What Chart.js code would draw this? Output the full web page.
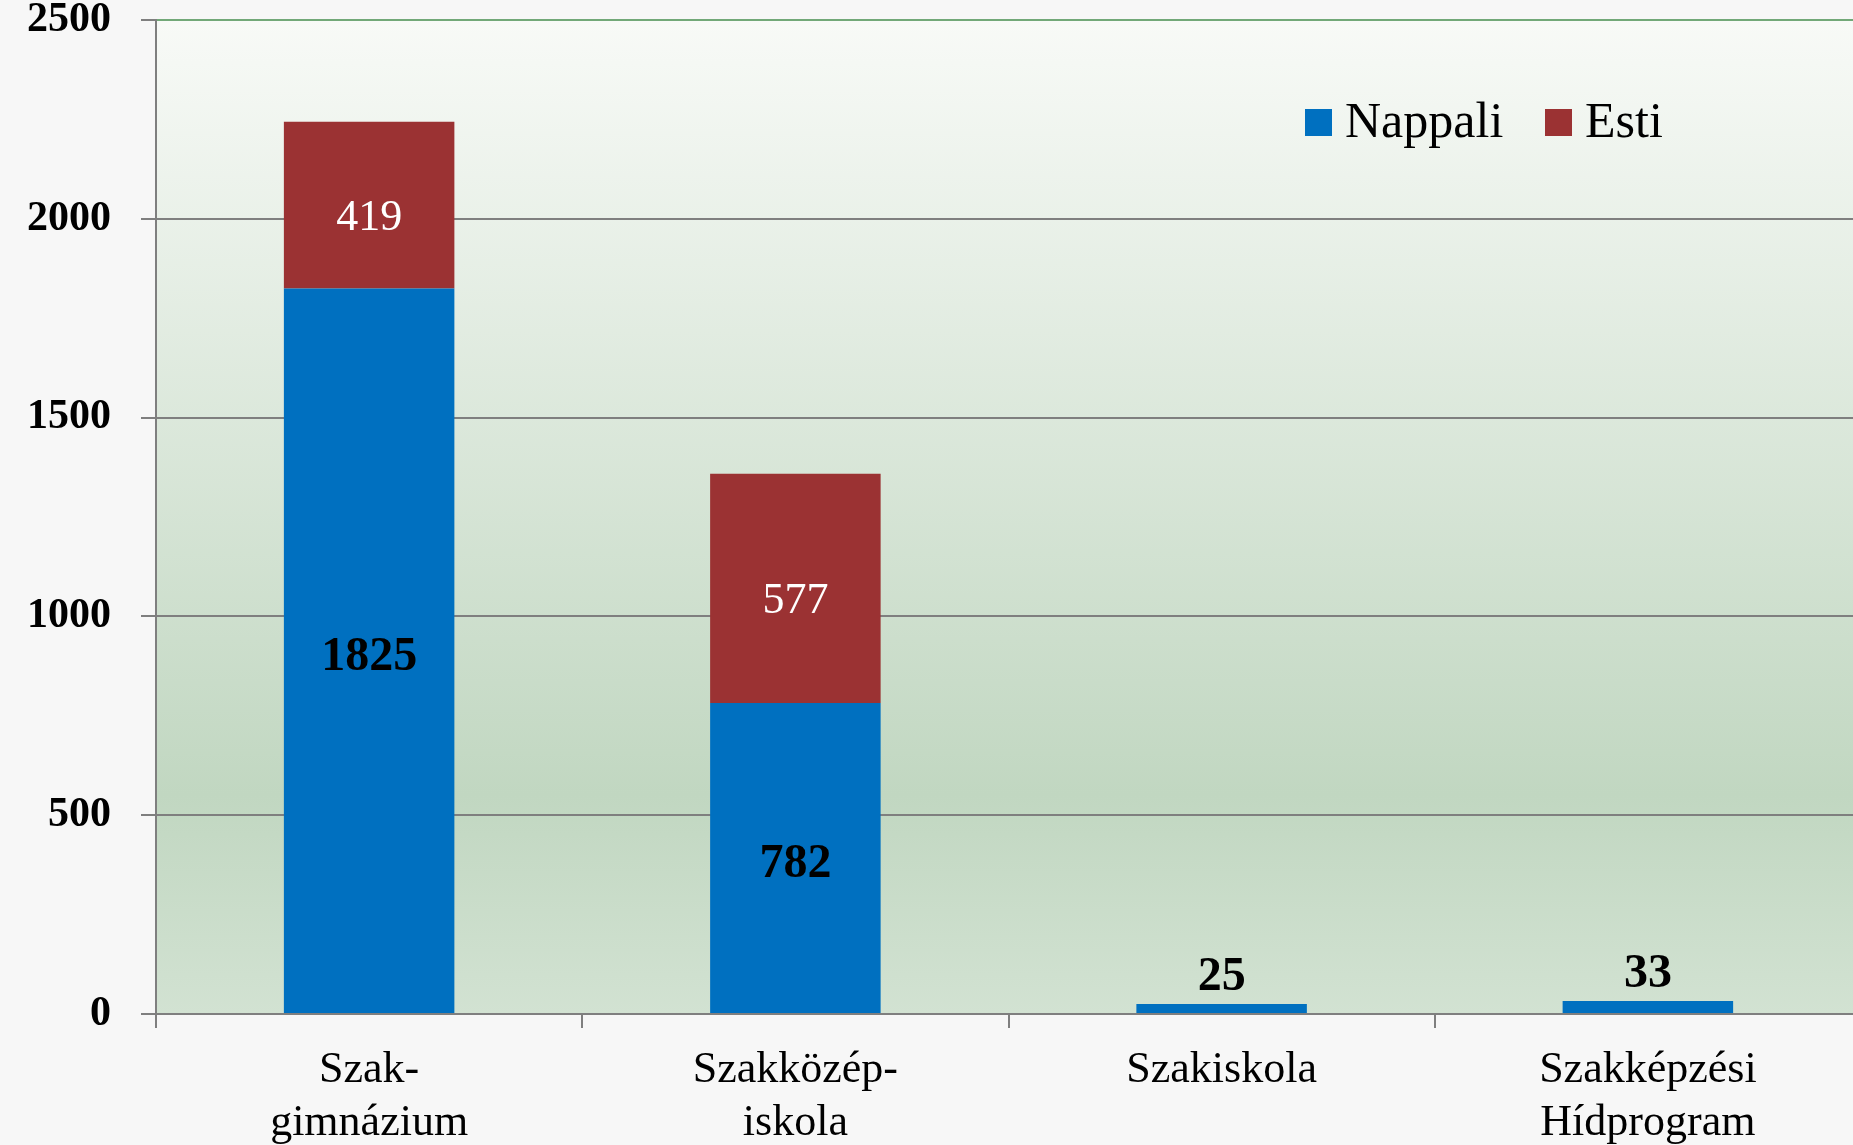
<!DOCTYPE html>
<html>
<head>
<meta charset="utf-8">
<script src="https://cdn.jsdelivr.net/npm/chart.js@4/dist/chart.umd.min.js"></script>
<style>
  html,body{margin:0;padding:0;overflow:hidden;background:#f7f7f7}
  #wrap{width:1861px;height:1145px}
</style>
</head>
<body>
<div id="wrap"><canvas id="chart" width="1861" height="1145"></canvas></div>
<script>
// data
const categories = [['Szak-','gimnázium'], ['Szakközép-','iskola'], 'Szakiskola', ['Szakképzési','Hídprogram']]
const nappali = [1825, 782, 25, 33]
const esti = [419, 577, null, null]
const seriesNames = ['Nappali', 'Esti']
const yMin = 0, yMax = 2500, yStep = 500

const BLUE = '#0070c0'
const RED = '#9b3233'
const SERIF = '"Liberation Serif", "DejaVu Serif", serif'

// plot background gradient
const bgPlugin = {
  id: 'plotBg',
  beforeDraw(chart){
    const {ctx, chartArea:a} = chart
    const g = ctx.createLinearGradient(0, a.top, 0, a.bottom)
    g.addColorStop(0, '#f8faf7')
    g.addColorStop(0.78, '#c1d7c1')
    g.addColorStop(1, '#d2e2d2')
    ctx.save()
    ctx.fillStyle = g
    ctx.fillRect(a.left, a.top, a.right - a.left, a.bottom - a.top)
    ctx.restore()
  }
}

// value labels on the bars
const labelPlugin = {
  id: 'barLabels',
  afterDatasetsDraw(chart){
    const ctx = chart.ctx
    ctx.save()
    ctx.textAlign = 'center'
    ctx.textBaseline = 'middle'
    chart.data.datasets.forEach((ds, di) => {
      const meta = chart.getDatasetMeta(di)
      meta.data.forEach((bar, i) => {
        const v = ds.data[i]
        if(v == null) return
        const h = bar.base - bar.y
        if(di === 1){
          ctx.font = '44px ' + SERIF
          ctx.fillStyle = '#ffffff'
          ctx.fillText(String(v), bar.x, bar.y + h/2 + 13)
        } else {
          ctx.font = 'bold 48px ' + SERIF
          ctx.fillStyle = '#000000'
          if(h > 80) ctx.fillText(String(v), bar.x, bar.y + h/2 + 7)
          else ctx.fillText(String(v), bar.x, bar.y - 26)
        }
      })
    })
    ctx.restore()
  }
}

// legend inside the plot, top right
const legendPlugin = {
  id: 'innerLegend',
  afterDraw(chart){
    const ctx = chart.ctx
    const items = [{x:1305}, {x:1545}]
    ctx.save()
    ctx.font = '50px ' + SERIF
    ctx.textBaseline = 'middle'
    ctx.textAlign = 'left'
    chart.data.datasets.forEach((ds, i) => {
      const x = items[i].x
      ctx.fillStyle = ds.backgroundColor
      ctx.fillRect(x, 109, 27, 27)
      ctx.fillStyle = '#000'
      ctx.fillText(ds.label, x + 40, 124)
    })
    ctx.restore()
  }
}

new Chart(document.getElementById('chart'), {
  type: 'bar',
  data: {
    labels: categories,
    datasets: [
      {label: seriesNames[0], data: nappali, backgroundColor: BLUE, borderWidth: 0},
      {label: seriesNames[1], data: esti, backgroundColor: RED, borderWidth: 0}
    ]
  },
  options: {
    responsive: false,
    animation: false,
    layout: {padding: {top: 20, left: 0, right: 0, bottom: 0}},
    datasets: {bar: {categoryPercentage: 1, barPercentage: 0.4}},
    plugins: {legend: {display: false}, tooltip: {enabled: false}},
    scales: {
      x: {
        stacked: true,
        afterFit(s){ s.height = 131; s.paddingLeft = 0; s.paddingRight = 0 },
        grid: {offset: true, drawOnChartArea: false, color: '#7f7f7f', tickLength: 14, lineWidth: 2},
        border: {color: '#7f7f7f', width: 2},
        ticks: {color: '#000', padding: 16, font: {family: SERIF, size: 44, lineHeight: 1.2}, maxRotation: 0, autoSkip: false}
      },
      y: {
        stacked: true,
        min: yMin, max: yMax,
        afterFit(s){ s.width = 156; s.paddingTop = 0; s.paddingBottom = 0 },
        grid: {
          color: c => (c.tick && c.tick.value === yMax) ? '#72a878' : '#7f7f7f',
          tickColor: '#7f7f7f',
          lineWidth: 2,
          tickLength: 15
        },
        border: {color: '#7f7f7f', width: 2},
        ticks: {stepSize: yStep, color: '#000', padding: 30, font: {family: SERIF, size: 42, weight: 'bold'}, callback: v => String(v)}
      }
    }
  },
  plugins: [bgPlugin, labelPlugin, legendPlugin]
})
</script>
</body>
</html>
